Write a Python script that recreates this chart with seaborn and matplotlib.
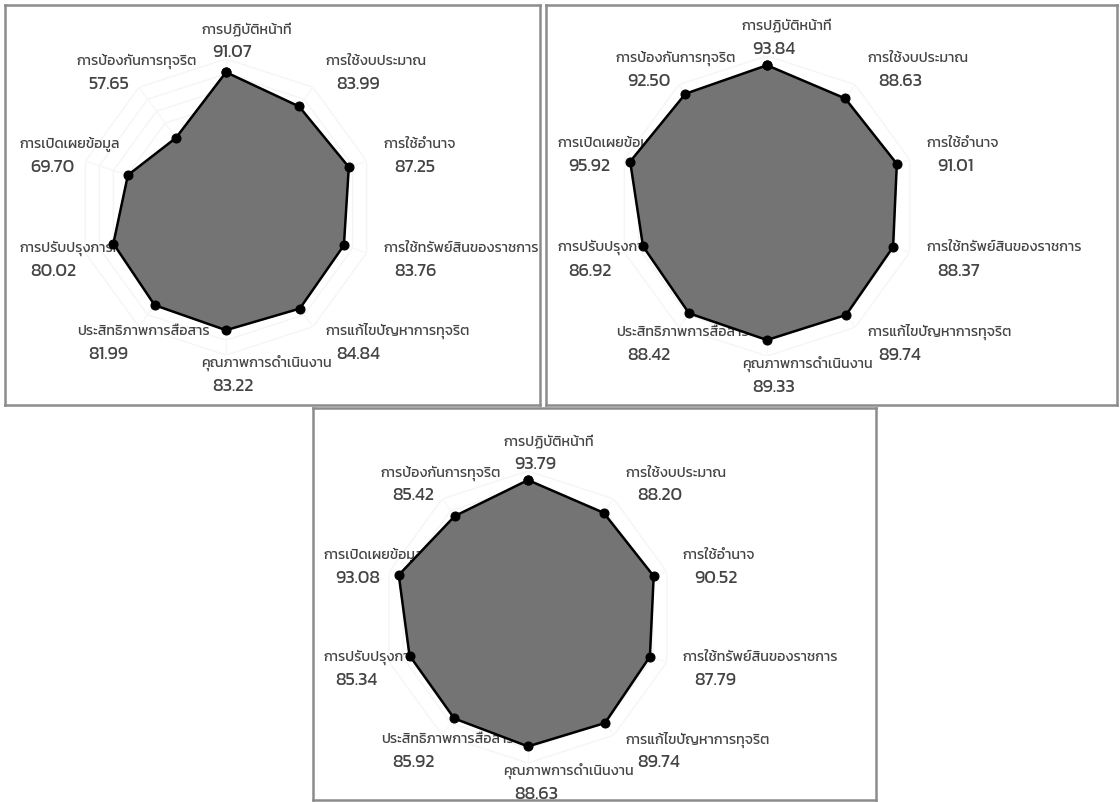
import numpy as np
import pandas as pd
import matplotlib
matplotlib.use("Agg")
import matplotlib.pyplot as plt
import seaborn as sns

# data
categories = ['การปฏิบัติหน้าที่', 'การใช้งบประมาณ', 'การใช้อำนาจ',
              'การใช้ทรัพย์สินของราชการ', 'การแก้ไขปัญหาการทุจริต',
              'คุณภาพการดำเนินงาน', 'ประสิทธิภาพการสื่อสาร',
              'การปรับปรุงการทำงาน', 'การเปิดเผยข้อมูล', 'การป้องกันการทุจริต']
scores_1 = [91.07, 83.99, 87.25, 83.76, 84.84, 83.22, 81.99, 80.02, 69.70, 57.65]
scores_2 = [93.84, 88.63, 91.01, 88.37, 89.74, 89.33, 88.42, 86.92, 95.92, 92.50]
scores_3 = [93.79, 88.20, 90.52, 87.79, 89.74, 88.63, 85.92, 85.34, 93.08, 85.42]
grid_levels = [10, 20, 30, 40, 50, 60, 70, 80, 90, 100]

sns.set_theme(style="white")
plt.rcParams['font.family'] = ['Kanit', 'DejaVu Sans']

W, H = 1120, 802
fig = plt.figure(figsize=(W / 100, H / 100), dpi=100)

TEXT = '#444444'
FILL = '#747474'


def px_rect(x0, y0, x1, y1):
    # pixel box (top-left origin) -> figure fraction rect
    return [x0 / W, 1 - y1 / H, (x1 - x0) / W, (y1 - y0) / H]


def radar(frame, center, radius, scores):
    bg = fig.add_axes(px_rect(*frame))
    bg.set_xticks([])
    bg.set_yticks([])
    for s in bg.spines.values():
        s.set_color('#8c8c8c')
        s.set_linewidth(1.8)

    cx, cy = center
    ax = fig.add_axes(px_rect(cx - radius, cy - radius, cx + radius, cy + radius),
                      projection='polar')
    ax.set_facecolor('none')
    ax.set_theta_zero_location('N')
    ax.set_theta_direction(-1)

    n = len(categories)
    theta = np.arange(n) * 2 * np.pi / n
    closed = np.append(theta, 2 * np.pi)

    for lv in grid_levels:
        ax.plot(closed, [lv] * (n + 1), color='#f5f5f5', lw=1, zorder=1)
    for t in theta:
        ax.plot([t, t], [0, 100], color='#f7f7f7', lw=1, zorder=1)

    # labels sit underneath the filled area, name over value, left aligned
    scale = radius / 148
    for t, name, val in zip(theta, categories, scores):
        rx = 159 + 55 * abs(np.sin(2 * t))
        dx = (rx * np.sin(t) - 25) * scale
        dy = (7 + 167 * np.cos(t)) * scale
        ax.annotate(name, xy=(0, 0), xytext=(dx, dy), textcoords='offset pixels',
                    ha='left', va='baseline', fontsize=10.3, fontweight='normal',
                    color=TEXT, zorder=2, annotation_clip=False)
        ax.annotate(f'{val:.2f}', xy=(0, 0), xytext=(dx + 11, dy - 24 * scale),
                    textcoords='offset pixels', ha='left', va='baseline',
                    fontsize=13, fontweight='normal', color=TEXT, zorder=2,
                    annotation_clip=False)

    vals = list(scores) + [scores[0]]
    ax.fill(closed, vals, color=FILL, zorder=3)
    df = pd.DataFrame({'theta': closed, 'score': vals})
    sns.lineplot(data=df, x='theta', y='score', sort=False, estimator=None, ax=ax,
                 color='black', lw=1.8, marker='o', markersize=6.5,
                 markeredgecolor='black', zorder=4)

    ax.set_ylim(0, 100)
    ax.set_xticks([])
    ax.set_yticks([])
    ax.set_xlabel('')
    ax.set_ylabel('')
    ax.grid(False)
    ax.spines['polar'].set_visible(False)


radar((5, 5, 540, 405), (226, 207), 148, scores_1)
radar((546, 5, 1117, 405), (767, 206), 150, scores_2)
radar((313, 408, 876, 800), (528, 617), 146, scores_3)

fig.savefig('out.png', dpi=100, facecolor='white')
